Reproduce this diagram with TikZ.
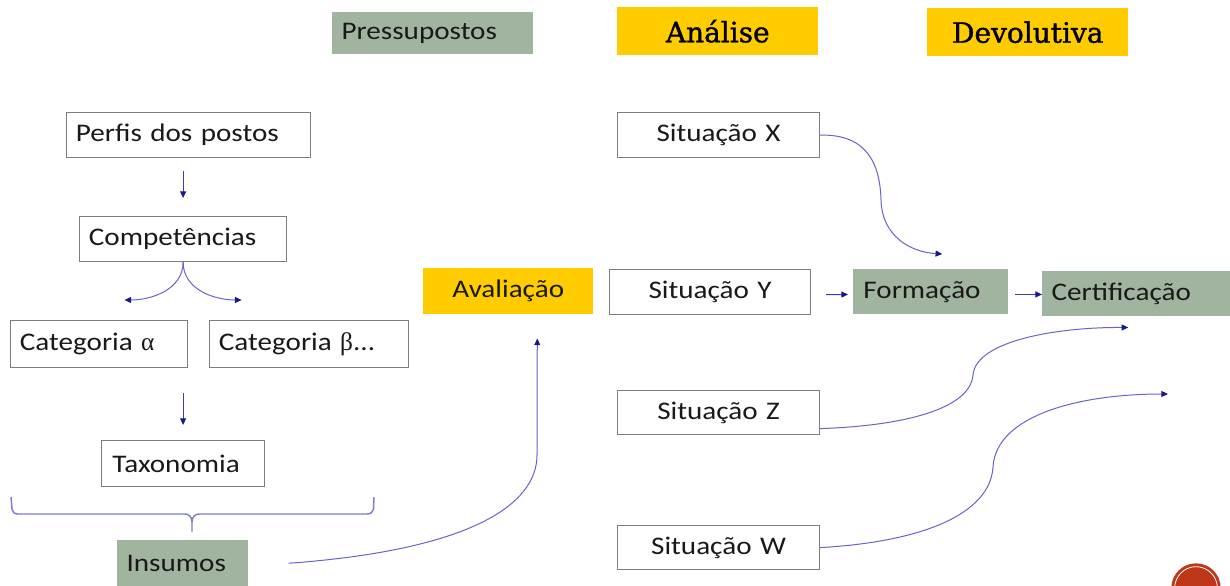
\documentclass[tikz,border=0pt]{standalone}
\usepackage{fontspec}
\setmainfont{Carlito}[FakeStretch=1.15]
\newfontfamily\hdrfont{DejaVu Serif}[FakeBold=1.3]
\newfontfamily\grkfont{Liberation Serif}
\usetikzlibrary{arrows.meta}
\definecolor{grn}{RGB}{161,180,159}
\definecolor{yel}{RGB}{255,204,0}
\definecolor{bord}{RGB}{125,125,125}
\definecolor{lnA}{RGB}{60,60,180}
\definecolor{lnB}{RGB}{100,100,205}
\definecolor{tipc}{RGB}{25,25,140}
\definecolor{redc}{RGB}{190,55,25}
\tikzset{
  base/.style={anchor=north west, inner xsep=7pt, inner ysep=0pt, text=black!90, font=\fontsize{19}{22}\selectfont},
  wbox/.style={base, draw=bord, line width=0.9pt, fill=white},
  gbox/.style={base, fill=grn},
  ybox/.style={base, fill=yel},
  hbox/.style={anchor=north west, fill=yel, inner sep=0pt, align=center, font=\hdrfont\fontsize{21}{24}\selectfont},
  arr/.style={draw=lnA, line width=0.75pt, -{Triangle[length=5pt,width=4.5pt,color=tipc]}},
  carr/.style={draw=lnB, line width=0.75pt, -{Triangle[length=5pt,width=4.5pt,color=tipc]}},
  brc/.style={draw=lnB!85, line width=1.1pt, line join=round}
}
\begin{document}
\begin{tikzpicture}[x=0.75pt,y=-0.75pt]
\useasboundingbox (0,0) rectangle (1230,585);
\clip (0,0) rectangle (1230,585);
% headers
\node[gbox, minimum width=150.75pt, minimum height=31.5pt, text width=136.75pt, align=left] (pp) at (332,12) {Pressupostos};
\node[hbox, minimum width=150.75pt, minimum height=36pt] (an) at (617,7) {Análise};
\node[hbox, minimum width=150.75pt, minimum height=36pt] (dv) at (927,8) {Devolutiva};
% left column
\node[wbox, minimum width=183pt, minimum height=33.75pt, text width=169pt, align=left] (perf) at (66,112) {Perfis dos postos};
\node[wbox, minimum width=155.25pt, minimum height=33.75pt, text width=141.25pt, align=left] (comp) at (79,216) {Competências};
\node[wbox, minimum width=132.75pt, minimum height=35.25pt, text width=118.75pt, align=left] (cata) at (10,320) {Categoria {\grkfont α}};
\node[wbox, minimum width=149.25pt, minimum height=35.25pt, text width=135.25pt, align=left] (catb) at (209,320) {Categoria {\grkfont β}...};
\node[wbox, minimum width=122.25pt, minimum height=34.5pt, text width=106pt, inner xsep=8.1pt, align=left] (tax) at (101,440) {Taxonomia};
\node[gbox, minimum width=98.25pt, minimum height=34.5pt, text width=84.25pt, align=left] (ins) at (117,540) {Insumos};
% middle
\node[ybox, minimum width=127.5pt, minimum height=34.5pt, text width=113.5pt, align=center] (aval) at (423,268) {Avaliação};
\node[wbox, minimum width=151.5pt, minimum height=33.75pt, text width=137.5pt, align=center] (sx) at (617,112) {Situação X};
\node[wbox, minimum width=150.75pt, minimum height=33.75pt, text width=136.75pt, align=center] (sy) at (609,269) {Situação Y};
\node[wbox, minimum width=151.5pt, minimum height=33pt, text width=137.5pt, align=center] (sz) at (617,390) {Situação Z};
\node[wbox, minimum width=151.5pt, minimum height=33pt, text width=137.5pt, align=center] (sw) at (617,525) {Situação W};
% right
\node[gbox, minimum width=116.25pt, minimum height=33.75pt, text width=101pt, inner xsep=7.6pt, align=left] (form) at (853,269) {Formação};
\node[gbox, minimum width=141pt, minimum height=33.75pt, text width=127pt, align=left] (cert) at (1042,271) {Certificação};
\coordinate (wend) at (1168,394);
% connectors
\draw[arr, shorten <=9.75pt, shorten >=13.5pt] (comp.north |- perf.south) -- (comp.north);
\draw[carr] (comp.south) to[out=-90,in=0] ([xshift=19pt,yshift=15pt]cata.north);
\draw[carr] (comp.south) to[out=-90,in=180] ([xshift=-50.6pt,yshift=15pt]catb.north);
\draw[arr, shorten <=18.75pt, shorten >=11.25pt] (tax.north |- cata.south) -- (tax.north);
% brace
\draw[brc] (11,497) -- (12,509) .. controls (12.5,512) and (14,514) .. (18,514) -- (185,514)
  .. controls (189,514) and (192,517) .. (192,522) -- (192,532);
\draw[brc] (192,522) .. controls (192,517) and (195,514) .. (199,514) -- (367,514)
  .. controls (371,514) and (373,512) .. (373.5,509) -- (374,497);
% curves
\draw[carr] ([xshift=30pt]ins.east) .. controls (470,550) and (537,505) .. (537,455) -- ([xshift=21.75pt,yshift=-18pt]aval.south);
\draw[carr] (sx.east) .. controls (868,134) and (880,165) .. (881,200) .. controls (882,236) and (910,252) .. ([xshift=8.6pt,yshift=11.25pt]form.north);
\draw[arr, shorten <=11.25pt, shorten >=3.75pt] ([yshift=-2pt]sy.east) -- ([yshift=-2pt]form.west);
\draw[arr, shorten <=4.5pt] ([yshift=-2pt]form.east) -- ([yshift=-2pt]form.east -| cert.west);
\draw[carr] ([yshift=-12pt]sz.east) .. controls (900,426) and (970,410) .. (973,375) .. controls (976,340) and (1060,327) .. ([xshift=-6pt,yshift=-8.25pt]cert.south);
\draw[carr] (sw.east) .. controls (920,542) and (990,515) .. (993,467) .. controls (996,415) and (1080,394) .. (wend);
% slide badge
\fill[redc] (1196,588) circle[radius=18.5pt];
\draw[white, line width=0.6pt] (1196,588) circle[radius=16pt];
\end{tikzpicture}
\end{document}
